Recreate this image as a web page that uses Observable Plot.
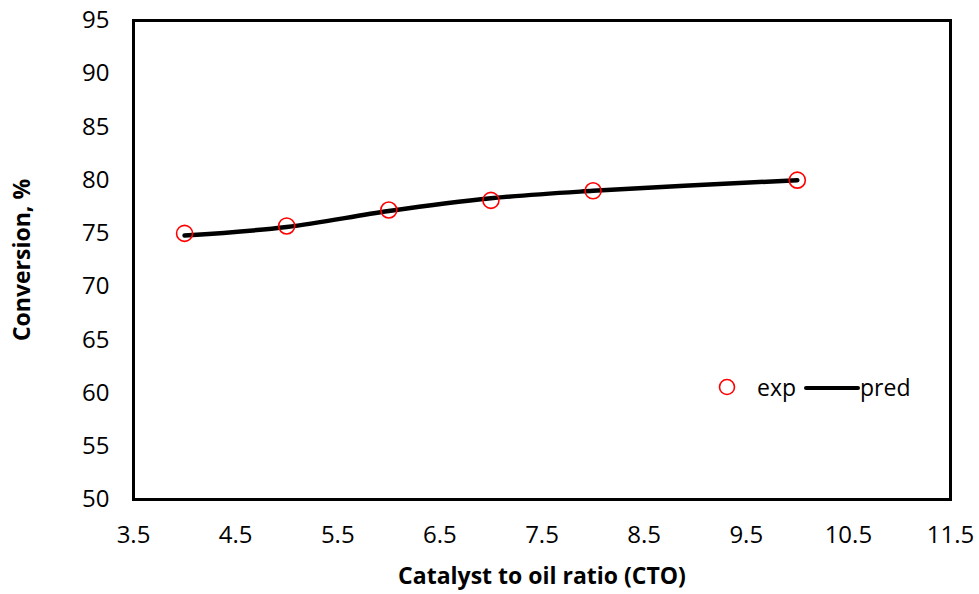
<!DOCTYPE html>
<html>
<head>
<meta charset="utf-8">
<script src="https://cdn.jsdelivr.net/npm/d3@7"></script>
<script src="https://cdn.jsdelivr.net/npm/@observablehq/plot@0.6"></script>
<style>
  body { margin: 0; background: #fff; font-family: "Open Sans", sans-serif; }
  #wrap { position: relative; width: 979px; height: 594px; }
  #legend { position: absolute; left: 715px; top: 371px; display: flex; align-items: center; font-size: 23px; color: #000; font-family: "Open Sans", sans-serif; }
</style>
</head>
<body>
<div id="wrap">
  <div id="chart"></div>
  <div id="legend">
    <svg width="24" height="24"><circle cx="12" cy="12" r="7.5" fill="none" stroke="#ff0000" stroke-width="1.6"/></svg>
    <span style="margin-left:18px">exp</span>
    <svg width="56" height="24" style="margin-left:8px"><line x1="2" y1="13" x2="54" y2="13" stroke="#000" stroke-width="4" stroke-linecap="round"/></svg>
    <span>pred</span>
  </div>
</div>
<script>
const ctoExp = [4, 5, 6, 7, 8, 10];
const convExp = [75.0, 75.7, 77.2, 78.1, 79.0, 80.0];
const ctoPred = [4, 5, 6, 7, 8, 10];
const convPred = [74.8, 75.6, 77.1, 78.3, 79.0, 80.0];
const xTicks = [3.5, 4.5, 5.5, 6.5, 7.5, 8.5, 9.5, 10.5, 11.5];
const yTicks = [50, 55, 60, 65, 70, 75, 80, 85, 90, 95];
const xLabel = "Catalyst to oil ratio (CTO)";
const yLabel = "Conversion, %";

const expData = ctoExp.map((x, i) => ({x, y: convExp[i]}));
const predData = ctoPred.map((x, i) => ({x, y: convPred[i]}));

const chart = Plot.plot({
  width: 979,
  height: 594,
  marginLeft: 133,
  marginRight: 29,
  marginTop: 20,
  marginBottom: 95,
  style: { fontFamily: "Open Sans, sans-serif", fontSize: "24px", color: "#000", background: "#fff" },
  x: { domain: [3.5, 11.5] },
  y: { domain: [50, 95] },
  marks: [
    Plot.axisX({ ticks: xTicks, tickSize: 0, tickPadding: 26, tickFormat: d => d.toFixed(1), label: null, fontSize: 24 }),
    Plot.axisY({ ticks: yTicks, tickSize: 0, tickPadding: 24, tickFormat: d => String(d), label: null, fontSize: 24 }),
    Plot.line(predData, { x: "x", y: "y", stroke: "#000", strokeWidth: 4.5, curve: "catmull-rom" }),
    Plot.dot(expData, { x: "x", y: "y", r: 8, stroke: "#ff0000", strokeWidth: 1.6, fill: "none" }),
    Plot.frame({ stroke: "#000", strokeWidth: 3 }),
    Plot.text([xLabel], { text: d => d, frameAnchor: "bottom", dy: 84, fontWeight: "bold", fontSize: 23 }),
    Plot.text([yLabel], { text: d => d, frameAnchor: "left", textAnchor: "middle", dx: -111, rotate: -90, fontWeight: "bold", fontSize: 23 })
  ]
});
document.getElementById("chart").appendChild(chart);
</script>
</body>
</html>
